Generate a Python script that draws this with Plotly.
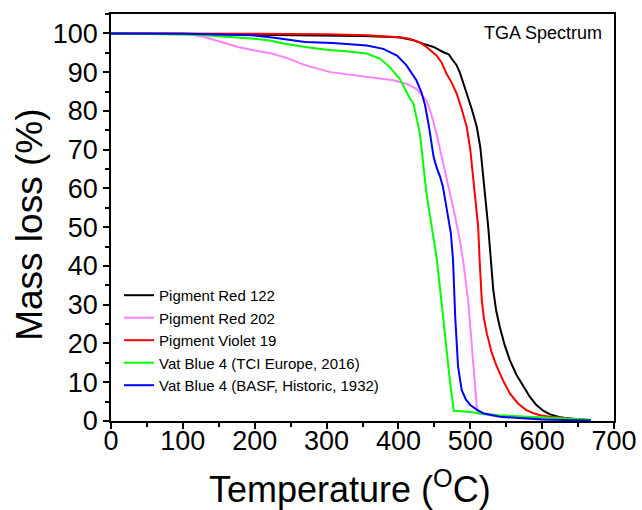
import plotly.graph_objects as go

FONT = "Liberation Sans, Arial, sans-serif"

names = ["Pigment Red 122", "Pigment Red 202", "Pigment Violet 19",
         "Vat Blue 4 (TCI Europe, 2016)", "Vat Blue 4 (BASF, Historic, 1932)"]
colors = ["#000000", "#FF80FF", "#FF0000", "#00FF00", "#0000FF"]

pr122_T = [0, 50, 100, 150, 200, 250, 300, 350, 400, 420, 435, 449, 462, 470, 476, 481, 486, 490, 495, 502,
           509, 514, 518, 522, 525, 528, 532, 536, 541, 548, 555, 564, 574, 583, 592, 602, 611, 625, 640, 655, 668]
pr122_m = [100, 100, 99.9, 99.8, 99.7, 99.5, 99.4, 99.3, 99.0, 98.3, 97.3, 96.5, 95.2, 94.6, 93.0, 91.8, 89.6, 87.5, 84.5, 80.5,
           75.9, 70.5, 63, 56.5, 50, 43, 33.8, 28.5, 24.3, 19.5, 15.7, 12, 8.8, 6.2, 4.1, 2.6, 1.7, 1.0, 0.6, 0.3, 0.2]

pr202_T = [0, 50, 100, 112, 131, 154, 177, 200, 224, 247, 270, 305, 356, 393, 411, 425, 439, 446, 453, 460,
           467, 473, 479, 485, 490, 497, 504, 507, 509, 511, 528, 560, 600, 640, 668]
pr202_m = [100, 99.9, 99.8, 99.7, 99.0, 97.8, 96.5, 95.6, 94.8, 93.5, 91.8, 90.0, 88.7, 87.9, 87.0, 85.7, 82.7, 79, 74.1, 68.5,
           63, 58, 52.7, 47, 41.5, 31.2, 15.7, 9, 3.7, 2.0, 1.5, 1.0, 0.6, 0.3, 0.2]

pv19_T = [0, 50, 100, 200, 300, 356, 402, 415, 425, 432, 439, 446, 453, 460, 467, 474, 481, 488, 495, 500,
          504, 508, 511, 513, 516, 519, 523, 530, 537, 546, 555, 566, 578, 588, 597, 615, 634, 650, 668]
pv19_m = [100, 100, 100, 99.9, 99.8, 99.5, 99.0, 98.6, 98.0, 97.4, 96.5, 95.5, 94.3, 92.5, 89.6, 87.3, 84.5, 80.5, 75.9, 70,
          63, 56, 50, 41.5, 31.2, 26.5, 22.6, 17.5, 14, 10.3, 7.1, 4.6, 2.8, 2.0, 1.5, 1.0, 0.7, 0.4, 0.2]

vb4tci_T = [0, 50, 100, 131, 177, 200, 219, 242, 270, 300, 330, 356, 374, 388, 402, 416, 421, 430, 439, 446,
            453, 458, 462, 467, 472, 475, 477, 500, 518, 540, 560, 588, 620, 650, 668]
vb4tci_m = [100, 99.9, 99.7, 99.5, 99.0, 98.6, 98.2, 97.3, 96.5, 95.8, 95.3, 94.8, 93.5, 91.3, 88.2, 83.2, 81.9, 74.0, 58.7, 50,
            42.3, 34, 26.9, 17, 9.7, 5.5, 2.65, 2.3, 1.8, 1.5, 1.3, 1.1, 0.8, 0.5, 0.3]

vb4basf_T = [0, 50, 100, 150, 196, 230, 251, 270, 309, 356, 379, 398, 411, 425, 432, 437, 442, 449, 453, 458,
             462, 468, 473, 476, 479, 483, 488, 494, 500, 510, 518, 541, 570, 600, 640, 668]
vb4basf_m = [100, 100, 99.9, 99.7, 99.5, 98.8, 98.2, 97.8, 97.5, 96.9, 96.0, 94.3, 91.8, 87.9, 84.8, 81.5, 76.5, 68.1, 65.5, 63,
             60.4, 54.4, 48.4, 41.5, 26.9, 14, 8, 5.5, 4.1, 2.8, 2.0, 1.1, 0.7, 0.4, 0.2, 0.1]

series_T = [pr122_T, pr202_T, pv19_T, vb4tci_T, vb4basf_T]
series_m = [pr122_m, pr202_m, pv19_m, vb4tci_m, vb4basf_m]

x_ticks = [0, 100, 200, 300, 400, 500, 600, 700]
y_ticks = [0, 10, 20, 30, 40, 50, 60, 70, 80, 90, 100]

fig = go.Figure()
for name, col, T, m in zip(names, colors, series_T, series_m):
    fig.add_trace(go.Scatter(x=T, y=m, mode="lines", name=name,
                             line=dict(color=col, width=2)))

axis_common = dict(showline=True, linecolor="black", linewidth=1.5, mirror=True,
                   showgrid=False, zeroline=False, ticks="outside", ticklen=6,
                   tickwidth=1.5, tickcolor="black", automargin=False,
                   tickfont=dict(family=FONT, size=27, color="black"))

fig.update_xaxes(range=[0, 700], tickvals=x_ticks, ticktext=[str(v) for v in x_ticks],
                 minor=dict(ticks="outside", ticklen=4, tickwidth=1.5, dtick=50, tick0=0, tickcolor="black"),
                 ticklabelstandoff=-11,
                 **axis_common)
fig.update_yaxes(range=[0, 105], tickvals=y_ticks, ticktext=[str(v) for v in y_ticks],
                 minor=dict(ticks="outside", ticklen=4, tickwidth=1.5, dtick=5, tick0=0, tickcolor="black"),
                 **axis_common)

# axis titles
fig.add_annotation(text="Temperature (<sup>O</sup>C)", xref="paper", yref="paper",
                   x=0.475, y=-0.162, xanchor="center", yanchor="middle", showarrow=False,
                   borderpad=0,
                   font=dict(family=FONT, size=36, color="black"))
fig.add_annotation(text="Mass loss (%)", xref="paper", yref="paper", textangle=-90,
                   x=-0.161, y=0.482, xanchor="center", yanchor="middle", showarrow=False,
                   font=dict(family=FONT, size=37, color="black"))

fig.add_annotation(text="TGA Spectrum", xref="paper", yref="paper", x=0.980, y=0.982,
                   xanchor="right", yanchor="top", showarrow=False,
                   font=dict(family=FONT, size=18, color="black"))

fig.update_layout(
    width=642, height=510,
    margin=dict(l=111, r=28, t=14, b=89, autoexpand=False),
    paper_bgcolor="white", plot_bgcolor="white",
    showlegend=True,
    legend=dict(x=0.016, y=0.349, xanchor="left", yanchor="top",
                bgcolor="rgba(0,0,0,0)", borderwidth=0,
                font=dict(family=FONT, size=15, color="black"),
                tracegroupgap=0, itemwidth=30),
)

fig.write_html("out.html", config={"displayModeBar": False},
               post_script="document.body.style.margin='0px';document.body.style.padding='0px';")
